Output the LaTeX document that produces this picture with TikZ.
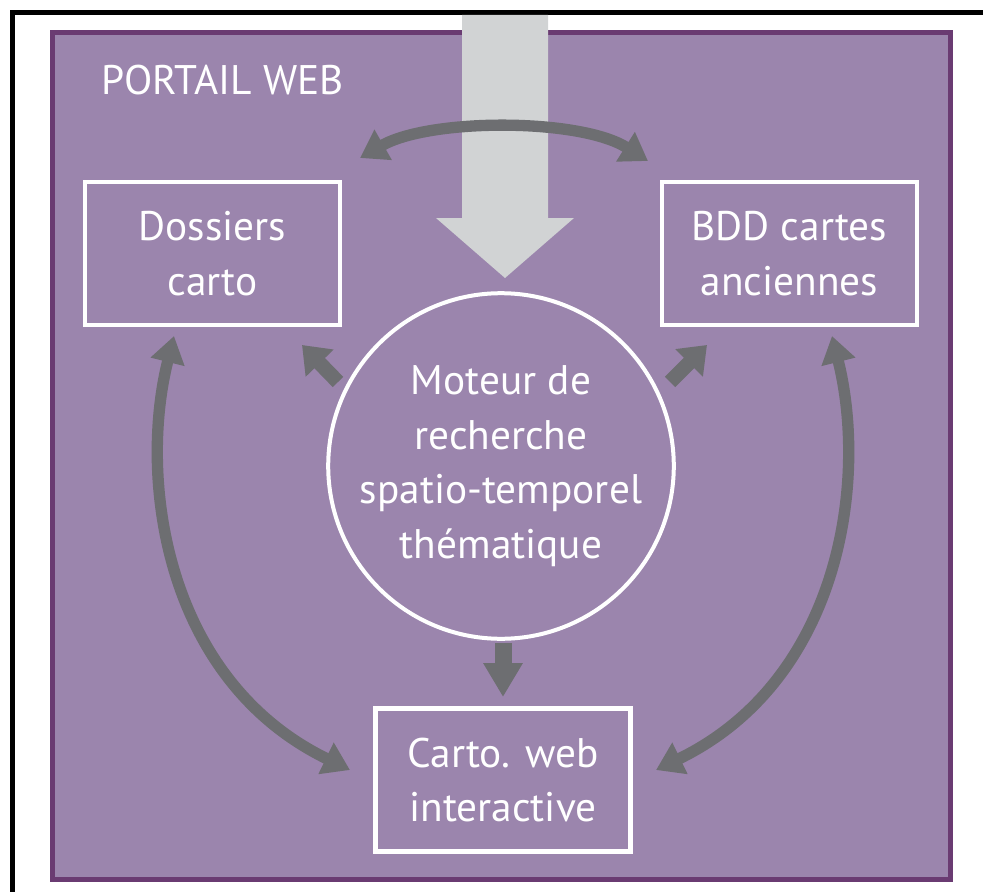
\documentclass[tikz,border=0pt]{standalone}
\usepackage{fontspec}
\setmainfont{PT Sans}
\usetikzlibrary{arrows.meta}
\definecolor{panel}{HTML}{9B85AD}
\definecolor{paneledge}{HTML}{6A3B72}
\definecolor{flowgrey}{HTML}{D1D3D4}
\definecolor{linkgrey}{HTML}{6D6E71}
\begin{document}
\begin{tikzpicture}[x=0.75pt,y=-0.75pt,
  labeltext/.style={text=white, font=\fontsize{31}{41}\selectfont, align=center},
  boxnode/.style={draw=white, line width=3.4pt, minimum width=191pt, minimum height=107pt, inner sep=0pt, labeltext},
  enginenode/.style={circle, draw=white, line width=3pt, minimum size=249pt, inner sep=0pt, labeltext},
  swing/.style={draw=linkgrey, line width=8.5pt, arrows={Triangle[length=20pt,width=25pt]-Triangle[length=20pt,width=25pt]}},
  nudge/.style={draw=linkgrey, line width=11pt, arrows={-Triangle[length=19pt,width=28pt]}},
  drop/.style={draw=linkgrey, line width=12.75pt, arrows={-Triangle[length=25.5pt,width=28pt]}}
]
\useasboundingbox (0,0) rectangle (983,892);

% outer frame (only the top and left edges fall on the page)
\draw[line width=3.4pt] (12.5,900) -- (12.5,12.5) -- (990,12.5);

% web portal panel
\filldraw[fill=panel, draw=paneledge, line width=3.75pt] (52.5,32.5) rectangle (950.5,879.5);

% incoming query flow
\fill[flowgrey] (462,15) -- (548,15) -- (548,218) -- (574,218) -- (505,278) -- (436,218) -- (462,218) -- cycle;

% components
\node[labeltext, anchor=west] (portail) at (97,80) {PORTAIL WEB};
\node[boxnode] (dossiers) at (212.5,253.5) {Dossiers\\carto};
\node[boxnode] (bdd) at (789.5,253.5) {BDD cartes\\anciennes};
\node[boxnode] (cartoweb) at (503,780) {Carto. web\\interactive};
\node[enginenode] (moteur) at (501,466) {Moteur de\\recherche\\spatio-temporel\\thématique};

% connector ends
\coordinate (topL) at (360,158);
\coordinate (topR) at (648,161);
\coordinate (leftA) at (174,336);
\coordinate (leftB) at (350,770);
\coordinate (rightA) at (832,336);
\coordinate (rightB) at (656,770);
\coordinate (mdL) at (338,382);
\coordinate (dL) at (302,345);
\coordinate (mdR) at (670,382);
\coordinate (dR) at (707,345);
\coordinate (mdB) at (503,643);
\coordinate (cB) at (503,697);

% exchanges between components
\draw[swing] (topL) .. controls (430,118) and (580,118) .. (topR);
\draw[swing] (leftA) .. controls (138,480) and (165,680) .. (leftB);
\draw[swing] (rightA) .. controls (868,480) and (841,680) .. (rightB);

% outputs of the search engine
\draw[nudge] (mdL) -- (dL);
\draw[nudge] (mdR) -- (dR);
\draw[drop] (mdB) -- (cB);
\end{tikzpicture}
\end{document}
